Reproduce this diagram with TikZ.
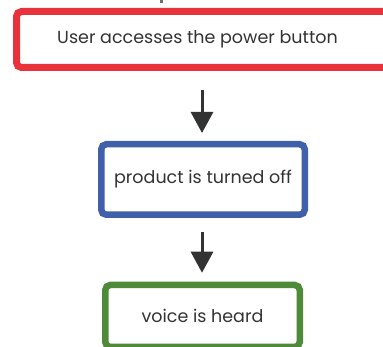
\documentclass[tikz,border=0pt]{standalone}
\usepackage{fontspec}
\setmainfont{Poppins}
\usetikzlibrary{arrows.meta}
\definecolor{redc}{HTML}{E8323C}
\definecolor{bluec}{HTML}{4060AA}
\definecolor{greenc}{HTML}{4E8A38}
\definecolor{txt}{HTML}{333333}
\tikzset{
  box/.style={draw, line width=6.5pt, rounded corners=5pt, fill=white, text=txt, font=\fontsize{17.5}{20}\selectfont, inner sep=0pt},
  flow/.style={draw=txt, line width=3pt, -{Triangle[width=22pt,length=21pt]}}
}
\begin{document}
\begin{tikzpicture}[x=1pt,y=-1pt]
\useasboundingbox (0,0) rectangle (383,347);
\node[box, draw=redc, line width=7pt, minimum width=374pt, minimum height=56pt] (a) at (203.5,39.5) {\hspace*{-12pt}User accesses the power button};
\node[box, draw=bluec, minimum width=203.5pt, minimum height=70.5pt] (b) at (203,179.5) {product is turned off};
\node[box, draw=greenc, minimum width=194.5pt, minimum height=62pt] (c) at (202.5,316) {voice is heard};
\draw[flow, shorten <=19pt, shorten >=8pt] (a.south -| 202,0) -- (b.north -| 202,0);
\draw[flow, shorten <=14pt, shorten >=9pt] (b.south -| 202,0) -- (c.north -| 202,0);
\coordinate (t1) at (161.5,-2);
\coordinate (t2) at (161.5,3);
\draw[draw=txt!70, line width=2.5pt] (t1) -- (t2);
\end{tikzpicture}
\end{document}
